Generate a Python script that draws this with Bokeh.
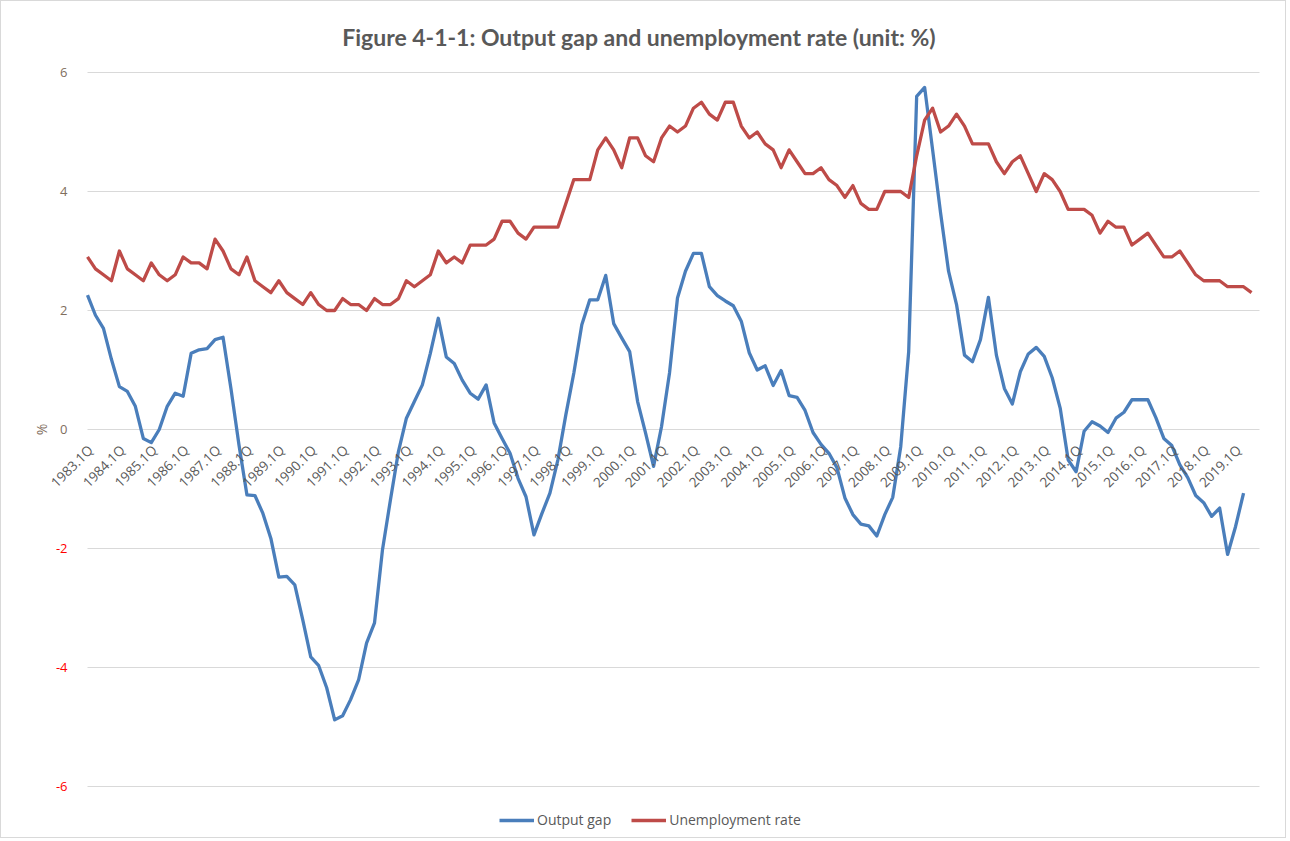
import math
from bokeh.plotting import figure
from bokeh.models import (FixedTicker, Range1d, Legend, LegendItem, LabelSet, Label,
                          ColumnDataSource, Grid)
from bokeh.core.properties import value
from bokeh.embed import file_html
from bokeh.resources import INLINE

# ---- data ----
years = list(range(1983, 2020))
quarters = [f"{y}.{q}Q" for y in years for q in range(1, 5)]   # 1983.1Q .. 2019.4Q
tick_positions = list(range(0, len(quarters), 4))
tick_labels = [quarters[i] for i in tick_positions]

output_gap = [
    2.26, 1.92, 1.70, 1.18, 0.72, 0.64, 0.39, -0.15, -0.22, 0.00,
    0.39, 0.61, 0.56, 1.28, 1.34, 1.36, 1.51, 1.55, 0.68, -0.26,
    -1.10, -1.11, -1.41, -1.83, -2.48, -2.47, -2.61, -3.20, -3.82, -3.97,
    -4.34, -4.88, -4.81, -4.54, -4.21, -3.59, -3.25, -2.02, -1.18, -0.37,
    0.19, 0.47, 0.75, 1.28, 1.87, 1.22, 1.11, 0.83, 0.61, 0.51,
    0.75, 0.11, -0.15, -0.40, -0.82, -1.13, -1.77, -1.41, -1.07, -0.51,
    0.25, 0.95, 1.76, 2.18, 2.18, 2.59, 1.78, 1.54, 1.31, 0.47,
    -0.06, -0.62, 0.05, 0.95, 2.21, 2.66, 2.96, 2.96, 2.40, 2.25,
    2.16, 2.08, 1.82, 1.29, 1.00, 1.07, 0.74, 0.99, 0.57, 0.54,
    0.32, -0.05, -0.25, -0.40, -0.64, -1.15, -1.43, -1.59, -1.62, -1.79,
    -1.43, -1.14, -0.29, 1.31, 5.60, 5.75, 4.70, 3.64, 2.66, 2.10,
    1.25, 1.14, 1.51, 2.22, 1.25, 0.69, 0.43, 0.97, 1.27, 1.38,
    1.23, 0.87, 0.36, -0.51, -0.71, -0.03, 0.13, 0.06, -0.05, 0.19,
    0.29, 0.50, 0.50, 0.50, 0.20, -0.15, -0.27, -0.59, -0.81, -1.11,
    -1.23, -1.46, -1.32, -2.10, -1.63, -1.07,
]

unemployment_rate = [
    2.9, 2.7, 2.6, 2.5, 3.0, 2.7, 2.6, 2.5, 2.8, 2.6,
    2.5, 2.6, 2.9, 2.8, 2.8, 2.7, 3.2, 3.0, 2.7, 2.6,
    2.9, 2.5, 2.4, 2.3, 2.5, 2.3, 2.2, 2.1, 2.3, 2.1,
    2.0, 2.0, 2.2, 2.1, 2.1, 2.0, 2.2, 2.1, 2.1, 2.2,
    2.5, 2.4, 2.5, 2.6, 3.0, 2.8, 2.9, 2.8, 3.1, 3.1,
    3.1, 3.2, 3.5, 3.5, 3.3, 3.2, 3.4, 3.4, 3.4, 3.4,
    3.8, 4.2, 4.2, 4.2, 4.7, 4.9, 4.7, 4.4, 4.9, 4.9,
    4.6, 4.5, 4.9, 5.1, 5.0, 5.1, 5.4, 5.5, 5.3, 5.2,
    5.5, 5.5, 5.1, 4.9, 5.0, 4.8, 4.7, 4.4, 4.7, 4.5,
    4.3, 4.3, 4.4, 4.2, 4.1, 3.9, 4.1, 3.8, 3.7, 3.7,
    4.0, 4.0, 4.0, 3.9, 4.6, 5.2, 5.4, 5.0, 5.1, 5.3,
    5.1, 4.8, 4.8, 4.8, 4.5, 4.3, 4.5, 4.6, 4.3, 4.0,
    4.3, 4.2, 4.0, 3.7, 3.7, 3.7, 3.6, 3.3, 3.5, 3.4,
    3.4, 3.1, 3.2, 3.3, 3.1, 2.9, 2.9, 3.0, 2.8, 2.6,
    2.5, 2.5, 2.5, 2.4, 2.4, 2.4, 2.3,
]

y_pos_ticks = [0, 2, 4, 6]
y_neg_ticks = [-6, -4, -2]
y_all_ticks = y_neg_ticks + y_pos_ticks

TITLE = "Figure  4-1-1:  Output gap and unemployment rate (unit: %)"
FONT = "Open Sans"
GRAY = "#595959"
TAN = "#7f6e5e"

# ---- layout (pixels) ----
W, H = 1286, 838
TOP = 53                      # height of the title band above the drawing area
PLOT_L, PLOT_R = 86, 1258     # where the first and last quarter sit
PLOT_T, PLOT_B = 71, 785      # where y = 6 and y = -6 sit
n_cat = len(quarters)
ppx = (PLOT_R - PLOT_L) / (n_cat - 1)
ppy = (PLOT_B - PLOT_T) / (y_all_ticks[-1] - y_all_ticks[0])
x0 = -PLOT_L / ppx
x1 = x0 + W / ppx
y1 = y_all_ticks[-1] + (PLOT_T - TOP) / ppy
y0 = y_all_ticks[0] - (H - PLOT_B) / ppy

p = figure(
    width=W, height=H,
    output_backend="svg", toolbar_location=None,
    x_range=Range1d(x0, x1), y_range=Range1d(y0, y1),
    x_axis_location=None, y_axis_location=None,
    min_border_left=0, min_border_right=0, min_border_top=TOP, min_border_bottom=0,
)
p.outline_line_color = None
p.background_fill_color = "white"
p.border_fill_color = "white"
p.styles = {"border": "1px solid #d9d9d9"}

# remove default grids
p.xgrid.visible = False
p.ygrid.visible = False

# title
p.title.text = TITLE
p.title.align = "center"
p.title.text_font = "Lato"
p.title.text_font_style = "bold"
p.title.text_font_size = "23px"
p.title.text_color = GRAY
p.title.standoff = 7

# horizontal grid lines, only across the plotting area
grid = Grid(dimension=1, ticker=FixedTicker(ticks=y_all_ticks),
            cross_bounds=(0, n_cat - 1),
            grid_line_color="#d9d9d9", grid_line_width=1)
p.add_layout(grid)

# lines
x_gap = list(range(len(output_gap)))
x_unemp = list(range(len(unemployment_rate)))
r_gap = p.line(x_gap, output_gap, line_color="#4a7ebb", line_width=3.3, line_join="round")
r_un = p.line(x_unemp, unemployment_rate, line_color="#be4b48", line_width=3.3, line_join="round")

# y tick labels
pos_src = ColumnDataSource(dict(x=[PLOT_L - 20] * len(y_pos_ticks), y=y_pos_ticks,
                                text=[str(t) for t in y_pos_ticks]))
p.add_layout(LabelSet(source=pos_src, x="x", y="y", text="text", x_units="screen",
                      text_align="right", text_baseline="middle",
                      text_font=value(FONT), text_font_size=value("13px"), text_color=TAN))
neg_src = ColumnDataSource(dict(x=[PLOT_L - 20] * len(y_neg_ticks), y=y_neg_ticks,
                                text=[str(t) for t in y_neg_ticks]))
p.add_layout(LabelSet(source=neg_src, x="x", y="y", text="text", x_units="screen",
                      text_align="right", text_baseline="middle",
                      text_font=value(FONT), text_font_size=value("13px"), text_color="#ff0000"))

# y axis title
p.add_layout(Label(x=40, y=0, x_units="screen", text="%", angle=math.pi / 2,
                   text_align="center", text_baseline="middle",
                   text_font=FONT, text_font_size="14px", text_color=TAN))

# category labels along the zero line, rotated 45 degrees
cat_src = ColumnDataSource(dict(x=tick_positions, y=[0] * len(tick_positions), text=tick_labels))
p.add_layout(LabelSet(source=cat_src, x="x", y="y", text="text",
                      angle=math.pi / 4, text_align="right", text_baseline="middle",
                      x_offset=3, y_offset=-18,
                      text_font=value(FONT), text_font_size=value("13.5px"), text_color=GRAY))

# legend below the plot area
legend = Legend(
    items=[LegendItem(label="Output gap", renderers=[r_gap]),
           LegendItem(label="Unemployment rate", renderers=[r_un])],
    orientation="horizontal", location=(498, H - 828),
    glyph_width=35, glyph_height=14, label_standoff=3, spacing=20,
    padding=0, margin=0, border_line_color=None, background_fill_alpha=0,
    label_text_font=FONT, label_text_font_size="14px", label_text_color=GRAY,
)
p.add_layout(legend, "center")

open("out.html", "w").write(file_html(p, INLINE))
